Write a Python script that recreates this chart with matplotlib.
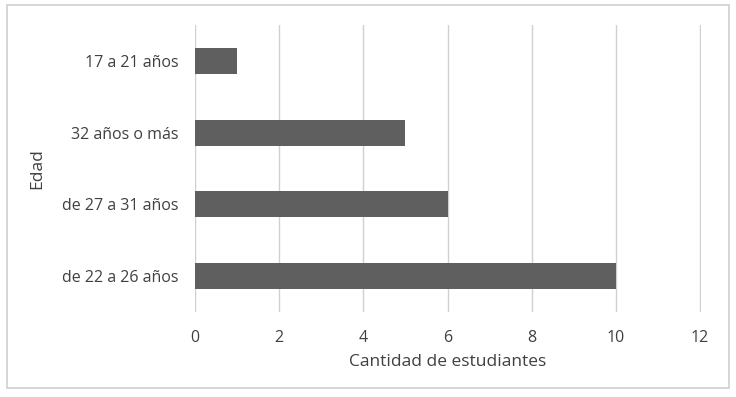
import matplotlib.pyplot as plt
from matplotlib.patches import Rectangle

categories = ['de 22 a 26 años', 'de 27 a 31 años', '32 años o más', '17 a 21 años']
counts = [10, 6, 5, 1]
xticks = [0, 2, 4, 6, 8, 10, 12]

plt.rcParams['font.family'] = ['Open Sans', 'DejaVu Sans']

dpi = 100
fig = plt.figure(figsize=(736 / dpi, 397 / dpi), dpi=dpi)
ax = fig.add_axes([195 / 736, 1 - 312 / 397, (701 - 195) / 736, (312 - 25) / 397])

ax.barh(range(len(categories)), counts, height=0.36, color='#5f5f5f', zorder=2)
ax.set_xlim(0, 12.02)
ax.set_ylim(-0.5, len(categories) - 0.5)
ax.set_xticks(xticks)
ax.set_yticks(range(len(categories)))
ax.set_yticklabels(categories)
ax.grid(axis='x', color='#d0d0d0', linewidth=1, zorder=0)
for s in ax.spines.values():
    s.set_visible(False)
ax.tick_params(length=0, labelsize=11.5, colors='#404040', pad=12)
ax.tick_params(axis='x', pad=13)
ax.set_xlabel('Cantidad de estudiantes', fontsize=12.5, color='#404040', labelpad=6)
ax.set_ylabel('Edad', fontsize=12.5, color='#404040', labelpad=12)

fig.patches.append(Rectangle((7 / 736, 1 - 388 / 397), 722 / 736, 383 / 397,
                             transform=fig.transFigure, fill=False,
                             edgecolor='#d0d0d0', linewidth=1.2))

fig.savefig('out.png', dpi=dpi, facecolor='white')
